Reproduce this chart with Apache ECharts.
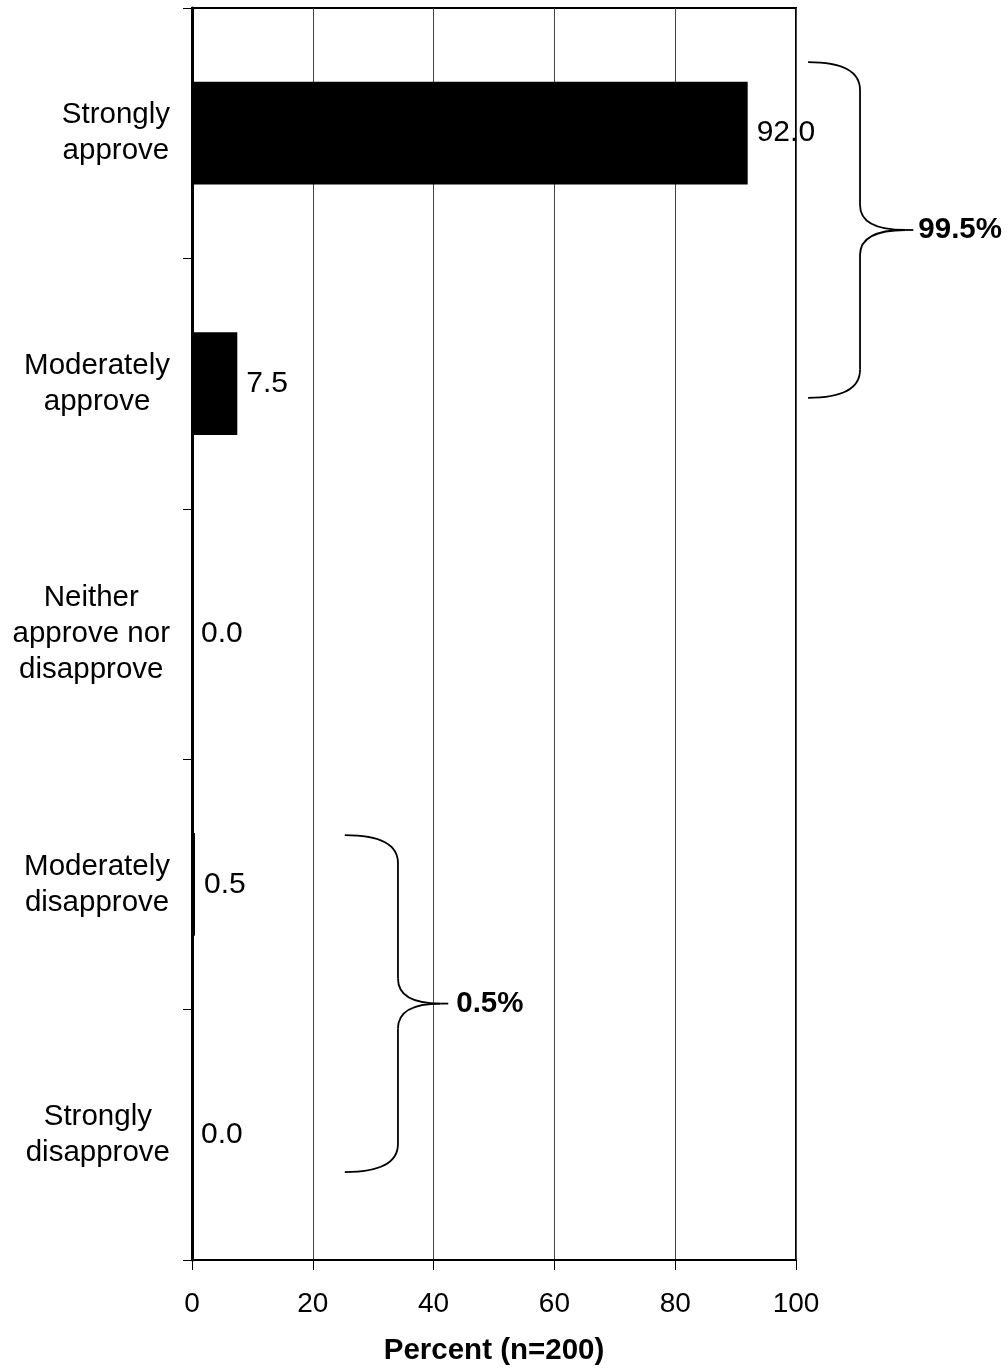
<!DOCTYPE html>
<html>
<head>
<meta charset="utf-8">
<script src="https://cdn.jsdelivr.net/npm/echarts@6/dist/echarts.min.js"></script>
<style>
  html, body { margin: 0; padding: 0; background: #fff; }
  #chart { width: 1008px; height: 1370px; }
</style>
</head>
<body>
<div id="chart"></div>
<script>
// categories, top to bottom
const categories = [
  'Strongly\napprove',
  'Moderately\napprove',
  'Neither\napprove nor\ndisapprove',
  'Moderately\ndisapprove',
  'Strongly\ndisapprove'
];
const percents = [92.0, 7.5, 0.0, 0.5, 0.0];
const xTicks = [0, 20, 40, 60, 80, 100];

// grouping braces: span in category index units, and the total shown
const braceLabels = ['99.5%', '0.5%'];
const braceFrom = [-0.284, 2.803];
const braceTo = [1.057, 4.149];

const chart = echarts.init(document.getElementById('chart'));
const fontFamily = '"Liberation Sans", Arial, sans-serif';

const option = {
  animation: false,
  backgroundColor: '#fff',
  textStyle: { fontFamily: fontFamily, color: '#000' },
  grid: {
    left: 192, right: 212, top: 8, bottom: 110,
    outerBoundsMode: 'none',
    containLabel: false,
    show: true, borderColor: '#000', borderWidth: 2, backgroundColor: 'transparent'
  },
  xAxis: {
    type: 'value',
    min: xTicks[0], max: xTicks[xTicks.length - 1], interval: 20,
    name: 'Percent (n=200)',
    nameLocation: 'middle',
    nameGap: 76,
    nameTextStyle: { fontSize: 29.5, fontWeight: 'bold', color: '#000', fontFamily: fontFamily },
    axisLine: { show: true, lineStyle: { color: '#000', width: 2 } },
    axisTick: { show: true, length: 10, lineStyle: { color: '#000', width: 1 } },
    axisLabel: { fontSize: 28, color: '#000', margin: 30, fontFamily: fontFamily },
    splitLine: { show: true, lineStyle: { color: '#444', width: 1 } }
  },
  yAxis: {
    type: 'category',
    data: categories,
    inverse: true,
    axisLine: { show: true, lineStyle: { color: '#000', width: 3 } },
    axisTick: { show: true, length: 9, alignWithLabel: false, lineStyle: { color: '#000', width: 1 } },
    axisLabel: {
      margin: 22,
      align: 'right',
      formatter: v => v.split('\n').map(s => '{c|' + s + '}').join('\n'),
      rich: {
        c: { align: 'center', fontSize: 29.5, lineHeight: 36, color: '#000', fontFamily: fontFamily }
      }
    },
    splitLine: { show: false }
  },
  series: [{
    type: 'bar',
    data: percents,
    barWidth: '41%',
    itemStyle: { color: '#000' },
    label: {
      show: true,
      position: 'right',
      distance: 9,
      fontSize: 30,
      color: '#000',
      fontFamily: fontFamily,
      formatter: p => p.value.toFixed(1)
    }
  }]
};
chart.setOption(option);

const c0 = chart.convertToPixel({ yAxisIndex: 0 }, categories[0]);
const c1 = chart.convertToPixel({ yAxisIndex: 0 }, categories[1]);
const band = c1 - c0;
const yAt = idx => c0 + idx * band;
const xAt = v => chart.convertToPixel({ xAxisIndex: 0 }, v);

// brace x positions in value units (left end, spine, tip)
const braceX = [[102, 110.6, 118.1], [25.3, 34.1, 41.1]];

const stroke = { stroke: '#000', lineWidth: 1.8, fill: null };
const graphics = [];
braceLabels.forEach((lab, i) => {
  const x0 = xAt(braceX[i][0]);
  const x1 = xAt(braceX[i][1]);
  const x2 = xAt(braceX[i][2]);
  const y0 = yAt(braceFrom[i]);
  const y3 = yAt(braceTo[i]);
  const ym = (y0 + y3) / 2;
  const r = 28;
  const r2 = 25;
  const curves = [
    [x0, y0, x1, y0 + r, x1, y0],
    [x1, ym - r2, x2, ym, x1, ym],
    [x2, ym, x1, ym + r2, x1, ym],
    [x1, y3 - r, x0, y3, x1, y3]
  ];
  curves.forEach(c => {
    graphics.push({
      type: 'bezierCurve',
      shape: { x1: c[0], y1: c[1], x2: c[2], y2: c[3], cpx1: c[4], cpy1: c[5] },
      style: stroke, z: 10
    });
  });
  graphics.push({ type: 'line', shape: { x1: x1, y1: y0 + r, x2: x1, y2: ym - r2 }, style: stroke, z: 10 });
  graphics.push({ type: 'line', shape: { x1: x1, y1: ym + r2, x2: x1, y2: y3 - r }, style: stroke, z: 10 });
  graphics.push({ type: 'line', shape: { x1: x2, y1: ym, x2: x2 + 8, y2: ym }, style: stroke, z: 10 });
  graphics.push({
    type: 'text',
    x: x2 + 13 + (i === 1 ? 3 : 0),
    y: ym,
    style: {
      text: lab, fontSize: 29.5, fontWeight: 'bold', fill: '#000',
      fontFamily: fontFamily, verticalAlign: 'middle', align: 'left'
    },
    z: 10
  });
});
chart.setOption({ graphic: graphics });
</script>
</body>
</html>
